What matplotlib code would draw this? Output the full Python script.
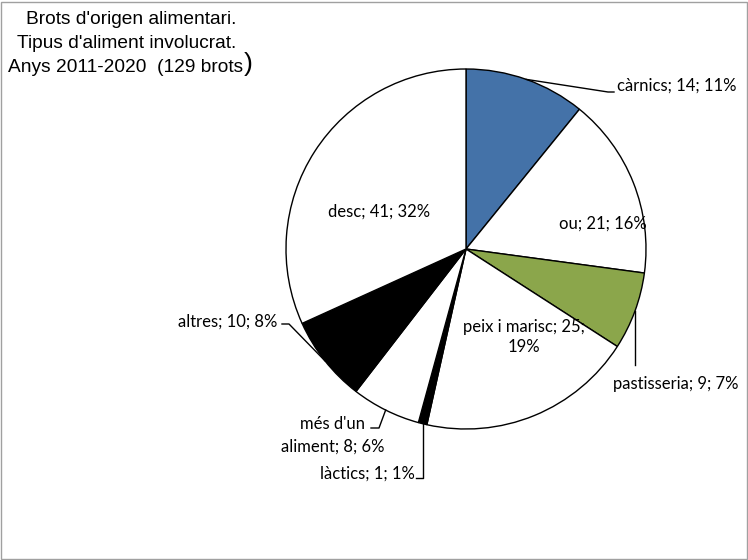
import matplotlib.pyplot as plt
import numpy as np
from matplotlib.patches import Rectangle

categories = ["càrnics", "ou", "pastisseria", "peix i marisc", "làctics",
              "més d'un aliment", "altres", "desc"]
values = [14, 21, 9, 25, 1, 8, 10, 41]
colors = ["#4472a8", "white", "#8ba64b", "white", "black", "white", "black", "white"]

W, H = 748, 560
LABEL_FONT = ["Lato", "DejaVu Sans"]

def px(x, y):
    # image pixel coords -> axes data coords
    return x, H - y

def label_text(i):
    pct = round(100 * values[i] / sum(values))
    return f"{categories[i]}; {values[i]}; {pct}%"

fig = plt.figure(figsize=(W / 100, H / 100), dpi=100)
ax = fig.add_axes([0, 0, 1, 1])

wedges, _ = ax.pie(values, colors=colors, startangle=90, counterclock=False,
                   center=px(466, 249), radius=180, frame=True,
                   wedgeprops=dict(edgecolor="black", linewidth=1))
ax.set_xlim(0, W)
ax.set_ylim(0, H)
ax.axis("off")

def edge_point(i):
    w = wedges[i]
    a = np.deg2rad((w.theta1 + w.theta2) / 2)
    return w.center[0] + w.r * np.cos(a), w.center[1] + w.r * np.sin(a)

fs = 12
# inside labels
ax.text(*px(603, 224), label_text(1), ha="center", va="center", fontsize=fs, family=LABEL_FONT)
ax.text(*px(524, 337), "peix i marisc; 25;\n19%", ha="center", va="center", fontsize=fs,
        family=LABEL_FONT, linespacing=1.3)
ax.text(*px(379, 212), label_text(7), ha="center", va="center", fontsize=fs, family=LABEL_FONT)

# outside labels with leader lines
lw = 1
# càrnics
ex, ey = edge_point(0)
ax.plot([ex, 608, 614], [ey, H - 92, H - 92], color="black", lw=lw)
ax.text(*px(617, 86), label_text(0), ha="left", va="center", fontsize=fs, family=LABEL_FONT)
# pastisseria
ex, ey = edge_point(2)
ax.plot([ex, ex], [ey, H - 365], color="black", lw=lw)
ax.text(*px(676, 384), label_text(2), ha="center", va="center", fontsize=fs, family=LABEL_FONT)
# làctics
ex, ey = edge_point(4)
ax.plot([ex, ex, ex - 7], [ey, H - 478, H - 478], color="black", lw=lw)
ax.text(*px(415, 474), label_text(4), ha="right", va="center", fontsize=fs, family=LABEL_FONT)
# més d'un aliment
ex, ey = edge_point(5)
ax.plot([ex, 379, 371], [ey, H - 428, H - 428], color="black", lw=lw)
ax.text(*px(333, 435), "més d'un\naliment; 8; 6%", ha="center", va="center", fontsize=fs,
        family=LABEL_FONT, linespacing=1.5)
# altres
ex, ey = edge_point(6)
ax.plot([ex, 289, 282], [ey, H - 324, H - 324], color="black", lw=lw)
ax.text(*px(277, 322), label_text(6), ha="right", va="center", fontsize=fs, family=LABEL_FONT)

# title
tfont = ["Liberation Sans", "DejaVu Sans"]
tfs = 13.8
ax.text(*px(131, 19), "Brots d'origen alimentari.", ha="center", va="center", fontsize=tfs, family=tfont)
ax.text(*px(127, 43), "Tipus d'aliment involucrat.", ha="center", va="center", fontsize=tfs, family=tfont)
t = ax.text(*px(8, 67), "Anys 2011-2020  (129 brots", ha="left", va="center", fontsize=tfs, family=tfont)
fig.canvas.draw()
bb = t.get_window_extent().transformed(ax.transData.inverted())
ax.text(bb.x1 + 1, H - 64, ")", ha="left", va="center", fontsize=19, family=tfont)

fig.patches.append(Rectangle((0.002, 0.002), 0.996, 0.995, transform=fig.transFigure,
                             fill=False, edgecolor="#a0a0a0", linewidth=1))

fig.savefig("out.png", dpi=100)
